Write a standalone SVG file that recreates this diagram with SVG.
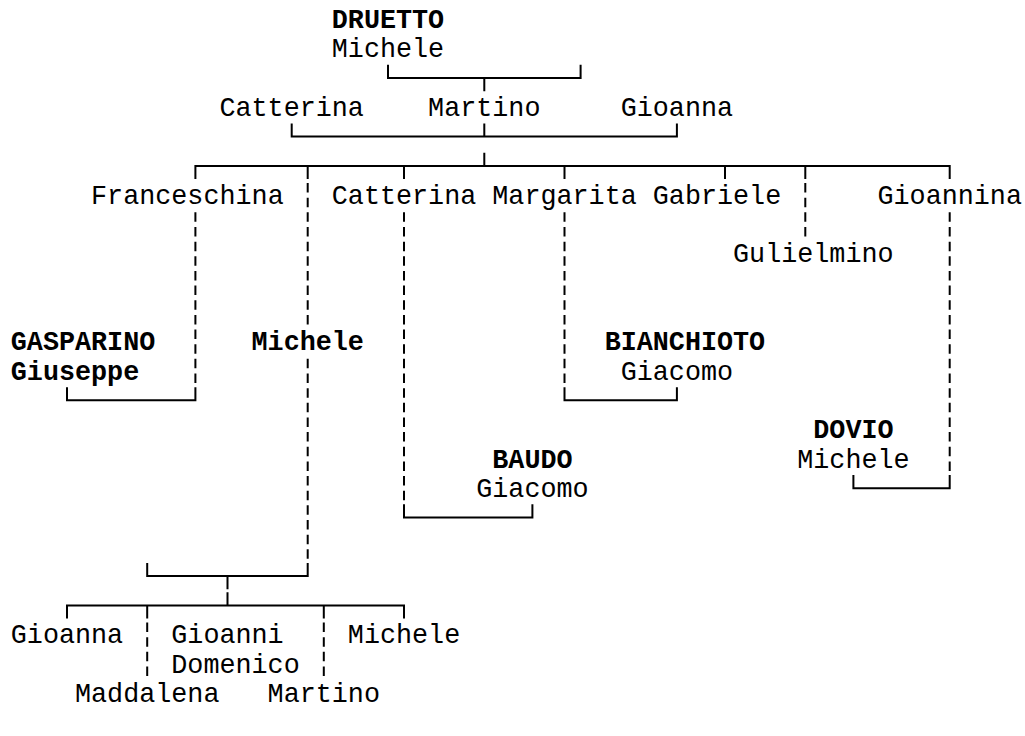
<svg xmlns="http://www.w3.org/2000/svg" width="1025" height="736" viewBox="0 0 1025 736">
<style>
text{font-family:"Liberation Mono","DejaVu Sans Mono",monospace;font-size:26.75px;fill:#000}
.b{font-weight:bold}
.s{fill:none;stroke:#000;stroke-width:2}
.d{fill:none;stroke:#000;stroke-width:2;stroke-dasharray:9.5 5.15;stroke-dashoffset:12.15}
</style>
<rect width="1025" height="736" fill="#fff"/>
<g id="connectors">
<path class="s" d="M388 64.85V78H580.6V64.85M484.3 78V91.15"/>
<path class="s" d="M291.7 123.45V136.6H676.9V123.45M484.3 123.45V136.6"/>
<path class="s" d="M484.3 152.75V165.9M195.4 179.05V165.9H949.7V179.05M307.7 165.9V179.05M404 165.9V179.05M564.5 165.9V179.05M725 165.9V179.05M805.3 165.9V179.05"/>
<path class="d" d="M195.4 209.85V385.65"/>
<path class="s" d="M67 387.15V400.3H195.4V387.15"/>
<path class="d" d="M307.7 180.55V327.05M307.7 356.35V561.45"/>
<path class="s" d="M147.2 562.95V576.1H307.7V562.95M227.5 576.1V589.25M227.5 592.25V605.4"/>
<path class="s" d="M67 618.55V605.4H404V618.55M147.2 605.4V618.55M323.8 605.4V618.55"/>
<path class="d" d="M147.2 620.05V678.65M323.8 620.05V678.65"/>
<path class="d" d="M404 209.85V502.85"/>
<path class="s" d="M404 504.35V517.5H532.4V504.35"/>
<path class="d" d="M564.5 209.85V385.65"/>
<path class="s" d="M564.5 387.15V400.3H676.9V387.15"/>
<path class="d" d="M805.3 180.55V239.15"/>
<path class="d" d="M949.7 209.85V473.55"/>
<path class="s" d="M853.4 475.05V488.2H949.7V475.05"/>
</g>
<g id="n-druetto-michele"><text class="b" x="331.8" y="28">DRUETTO</text><text x="331.8" y="57.3">Michele</text></g>
<g id="n-catterina-1"><text x="219.45" y="116">Catterina</text></g>
<g id="n-martino-1"><text x="428.1" y="116">Martino</text></g>
<g id="n-gioanna-1"><text x="620.7" y="116">Gioanna</text></g>
<g id="n-franceschina"><text x="91.05" y="203.8">Franceschina</text></g>
<g id="n-catterina-2"><text x="331.8" y="203.8">Catterina</text></g>
<g id="n-margarita"><text x="492.3" y="203.8">Margarita</text></g>
<g id="n-gabriele"><text x="652.8" y="203.8">Gabriele</text></g>
<g id="n-gioannina"><text x="877.5" y="203.8">Gioannina</text></g>
<g id="n-gulielmino"><text x="733.05" y="262.4">Gulielmino</text></g>
<g id="n-gasparino"><text class="b" x="10.8" y="350.3">GASPARINO</text><text class="b" x="10.8" y="379.6">Giuseppe</text></g>
<g id="n-michele-2"><text class="b" x="251.55" y="350.3">Michele</text></g>
<g id="n-bianchioto"><text class="b" x="604.65" y="350.3">BIANCHIOTO</text><text x="620.7" y="379.6">Giacomo</text></g>
<g id="n-dovio"><text class="b" x="813.3" y="438.2">DOVIO</text><text x="797.25" y="467.5">Michele</text></g>
<g id="n-baudo"><text class="b" x="492.3" y="467.5">BAUDO</text><text x="476.25" y="496.8">Giacomo</text></g>
<g id="n-gioanna-2"><text x="10.8" y="643.3">Gioanna</text></g>
<g id="n-gioanni"><text x="171.3" y="643.3">Gioanni</text><text x="171.3" y="672.6">Domenico</text></g>
<g id="n-michele-3"><text x="347.85" y="643.3">Michele</text></g>
<g id="n-maddalena"><text x="75" y="701.9">Maddalena</text></g>
<g id="n-martino-2"><text x="267.6" y="701.9">Martino</text></g>
</svg>
